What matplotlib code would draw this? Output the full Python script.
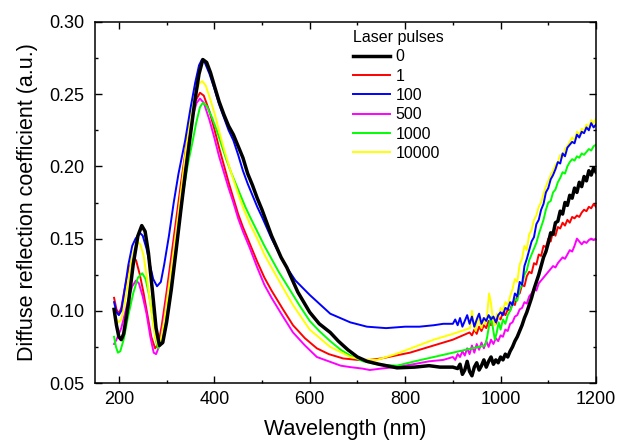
import matplotlib
matplotlib.use("Agg")
import matplotlib.pyplot as plt
from matplotlib.ticker import MultipleLocator, FormatStrFormatter

plt.rcParams['font.family'] = ['Liberation Sans', 'DejaVu Sans']

labels = ["0", "1", "100", "500", "1000", "10000"]
colors = ["black", "#ff0000", "#0000ff", "#ff00ff", "#00ff00", "#ffff00"]
widths = [2.5, 1.4, 1.4, 1.4, 1.4, 1.4]

# ---- series "0" ----
wl_0 = [190, 195, 200, 205, 210, 220, 230, 240, 248, 255, 262, 270, 278, 285, 292, 300, 310, 320, 330, 340,
        350, 360, 368, 376, 384, 392, 400, 410, 420, 430, 440, 450, 460, 470, 480, 490, 500, 520, 540, 552,
        575, 600, 620, 643, 660, 680, 700, 720, 745, 783, 820, 850, 873, 900,
        910, 915, 920, 925, 930, 935, 940, 945, 950, 955, 960, 965, 970, 975, 980, 985, 990, 995, 1000,
        1005, 1010, 1015, 1020, 1025, 1030, 1035, 1040, 1045, 1050, 1055, 1060, 1065, 1070, 1075, 1080,
        1085, 1090, 1095, 1100, 1105, 1110, 1115, 1120, 1125, 1130, 1135, 1140, 1145, 1150, 1155, 1160,
        1165, 1170, 1175, 1180, 1185, 1190, 1195, 1200]
v_0 = [0.101, 0.090, 0.082, 0.080, 0.084, 0.105, 0.132, 0.152, 0.159, 0.155, 0.140, 0.115, 0.088, 0.076, 0.078,
       0.092, 0.115, 0.142, 0.170, 0.197, 0.222, 0.247, 0.264, 0.274, 0.272, 0.265, 0.256, 0.245, 0.236, 0.228,
       0.222, 0.214, 0.206, 0.195, 0.187, 0.178, 0.170, 0.152, 0.137, 0.130, 0.113, 0.099, 0.091, 0.085, 0.079,
       0.073, 0.068, 0.065, 0.063, 0.0605, 0.061, 0.062, 0.061, 0.061,
       0.060, 0.063, 0.056, 0.059, 0.065, 0.058, 0.055, 0.061, 0.064, 0.059, 0.062, 0.066, 0.061, 0.065, 0.068,
       0.063, 0.066, 0.064, 0.068, 0.066, 0.070, 0.068, 0.072, 0.075, 0.079, 0.082, 0.086, 0.090, 0.095, 0.099,
       0.104, 0.109, 0.115, 0.120, 0.125, 0.131, 0.137, 0.141, 0.147, 0.154, 0.153, 0.161, 0.162, 0.169, 0.167,
       0.175, 0.173, 0.180, 0.178, 0.185, 0.182, 0.189, 0.186, 0.193, 0.190, 0.197, 0.194, 0.199, 0.196]

# ---- series "1" ----
wl_1 = [190, 195, 200, 205, 212, 220, 230, 236, 244, 252, 260, 268, 276, 283, 290, 300, 310, 320, 330, 343,
        350, 360, 370, 378, 390, 400, 410, 420, 430, 440, 450, 460, 475, 490, 505, 520, 544, 565, 590, 615,
        640, 670, 700, 726, 750, 780, 810, 840, 870, 900, 935,
        940, 945, 950, 955, 960, 965, 970, 975, 980, 985, 990, 995, 1000, 1005, 1010, 1015, 1020, 1025, 1030,
        1035, 1040, 1045, 1050, 1055, 1060, 1065, 1070, 1075, 1080, 1085, 1090, 1095, 1100, 1105, 1110, 1115,
        1120, 1125, 1130, 1135, 1140, 1145, 1150, 1155, 1160, 1165, 1170, 1175, 1180, 1185, 1190, 1195, 1200]
v_1 = [0.109, 0.101, 0.098, 0.102, 0.115, 0.128, 0.137, 0.135, 0.125, 0.112, 0.097, 0.082, 0.074, 0.077, 0.090,
       0.113, 0.138, 0.163, 0.188, 0.218, 0.230, 0.245, 0.251, 0.249, 0.238, 0.226, 0.213, 0.201, 0.189, 0.178,
       0.167, 0.158, 0.146, 0.134, 0.123, 0.114, 0.101, 0.090, 0.081, 0.074, 0.070, 0.067, 0.066, 0.066, 0.067,
       0.069, 0.071, 0.074, 0.077, 0.080, 0.085,
       0.083, 0.087, 0.084, 0.089, 0.086, 0.090, 0.088, 0.093, 0.090, 0.094, 0.091, 0.096, 0.094, 0.099, 0.097,
       0.101, 0.100, 0.106, 0.104, 0.111, 0.112, 0.118, 0.117, 0.124, 0.127, 0.126, 0.133, 0.132, 0.139, 0.138,
       0.145, 0.144, 0.150, 0.148, 0.155, 0.152, 0.158, 0.157, 0.161, 0.159, 0.163, 0.161, 0.165, 0.164, 0.166,
       0.165, 0.168, 0.170, 0.169, 0.172, 0.171, 0.174, 0.172]

# ---- series "100" ----
wl_100 = [190, 195, 200, 205, 210, 220, 228, 235, 244, 250, 258, 265, 272, 280, 288, 295, 305, 315, 325, 339,
          350, 360, 368, 374, 380, 390, 400, 410, 420, 430, 440, 450, 460, 470, 480, 490, 500, 520, 540, 552,
          570, 600, 643, 685, 720, 760, 800, 830, 860, 880, 900,
          905, 910, 915, 920, 925, 930, 935, 940, 945, 950, 955, 960, 965, 970, 975, 980, 985, 990, 995, 1000,
          1005, 1010, 1015, 1020, 1025, 1030, 1035, 1040, 1045, 1050, 1055, 1060, 1065, 1070, 1075, 1080, 1085,
          1090, 1095, 1100, 1105, 1110, 1115, 1120, 1125, 1130, 1135, 1140, 1145, 1150, 1155, 1160, 1165, 1170,
          1175, 1180, 1185, 1190, 1195, 1200]
v_100 = [0.106, 0.099, 0.097, 0.100, 0.110, 0.132, 0.145, 0.150, 0.154, 0.152, 0.143, 0.132, 0.122, 0.117, 0.120,
         0.132, 0.152, 0.175, 0.195, 0.218, 0.240, 0.258, 0.270, 0.274, 0.272, 0.264, 0.254, 0.243, 0.234, 0.225,
         0.218, 0.208, 0.197, 0.188, 0.180, 0.172, 0.165, 0.150, 0.137, 0.130, 0.121, 0.111, 0.098, 0.092, 0.089,
         0.088, 0.089, 0.089, 0.090, 0.091, 0.091,
         0.094, 0.090, 0.095, 0.089, 0.093, 0.097, 0.091, 0.096, 0.089, 0.094, 0.098, 0.091, 0.095, 0.093, 0.097,
         0.094, 0.096, 0.092, 0.097, 0.099, 0.097, 0.102, 0.101, 0.106, 0.104, 0.112, 0.110, 0.120, 0.118, 0.131,
         0.136, 0.142, 0.148, 0.151, 0.160, 0.163, 0.170, 0.174, 0.182, 0.185, 0.191, 0.194, 0.198, 0.203, 0.202,
         0.209, 0.207, 0.213, 0.215, 0.217, 0.216, 0.222, 0.220, 0.224, 0.223, 0.227, 0.225, 0.230, 0.227, 0.229]

# ---- series "500" ----
wl_500 = [190, 195, 200, 205, 212, 220, 228, 236, 242, 250, 258, 266, 273, 278, 285, 292, 300, 310, 320, 330,
          345, 355, 363, 370, 378, 390, 400, 410, 420, 430, 440, 450, 460, 475, 490, 505, 520, 544, 565, 590,
          615, 640, 665, 685, 710, 726, 750, 780, 817, 850, 880, 900,
          905, 910, 915, 920, 925, 930, 935, 940, 945, 950, 955, 960, 965, 970, 975, 980, 985, 990, 995, 1000,
          1005, 1010, 1015, 1020, 1025, 1030, 1035, 1040, 1045, 1050, 1055, 1060, 1065, 1070, 1075, 1080, 1085,
          1090, 1095, 1100, 1105, 1110, 1115, 1120, 1125, 1130, 1135, 1140, 1145, 1150, 1155, 1160, 1165, 1170,
          1175, 1180, 1185, 1190, 1195, 1200]
v_500 = [0.077, 0.080, 0.084, 0.088, 0.097, 0.108, 0.117, 0.121, 0.119, 0.110, 0.098, 0.082, 0.071, 0.070, 0.076,
         0.090, 0.108, 0.132, 0.157, 0.182, 0.218, 0.235, 0.244, 0.247, 0.244, 0.232, 0.220, 0.207, 0.196, 0.185,
         0.175, 0.164, 0.155, 0.143, 0.130, 0.118, 0.109, 0.096, 0.085, 0.076, 0.068, 0.065, 0.062, 0.061, 0.060,
         0.059, 0.060, 0.061, 0.063, 0.065, 0.066, 0.068,
         0.066, 0.070, 0.068, 0.072, 0.069, 0.074, 0.070, 0.076, 0.071, 0.077, 0.073, 0.078, 0.074, 0.079, 0.075,
         0.080, 0.077, 0.081, 0.079, 0.083, 0.082, 0.087, 0.086, 0.091, 0.092, 0.096, 0.097, 0.101, 0.102, 0.106,
         0.105, 0.110, 0.112, 0.115, 0.114, 0.119, 0.121, 0.123, 0.125, 0.127, 0.129, 0.131, 0.130, 0.133, 0.135,
         0.137, 0.136, 0.139, 0.142, 0.141, 0.145, 0.150, 0.148, 0.146, 0.148, 0.147, 0.149, 0.150, 0.149, 0.150]

# ---- series "1000" ----
wl_1000 = [190, 194, 198, 203, 210, 220, 230, 240, 249, 256, 264, 272, 278, 282, 288, 295, 305, 315, 325, 335,
           345, 355, 362, 370, 376, 384, 395, 405, 415, 425, 435, 445, 455, 465, 475, 490, 505, 520, 535, 550,
           565, 580, 600, 620, 643, 665, 690, 712, 740, 783, 820, 860, 900, 940, 968,
           972, 976, 980, 984, 988, 992, 996, 1000, 1005, 1010, 1015, 1020, 1025, 1030, 1035, 1040, 1045, 1050,
           1055, 1060, 1065, 1070, 1075, 1080, 1085, 1090, 1095, 1100, 1105, 1110, 1115, 1120, 1125, 1130, 1135,
           1140, 1145, 1150, 1155, 1160, 1165, 1170, 1175, 1180, 1185, 1190, 1195, 1200]
v_1000 = [0.082, 0.075, 0.071, 0.072, 0.080, 0.097, 0.112, 0.123, 0.126, 0.122, 0.110, 0.092, 0.079, 0.074, 0.077,
          0.088, 0.108, 0.132, 0.157, 0.182, 0.202, 0.218, 0.230, 0.241, 0.244, 0.242, 0.234, 0.225, 0.215, 0.205,
          0.196, 0.188, 0.180, 0.172, 0.165, 0.155, 0.145, 0.136, 0.127, 0.119, 0.111, 0.103, 0.093, 0.086, 0.079,
          0.073, 0.068, 0.065, 0.063, 0.062, 0.065, 0.068, 0.071, 0.074, 0.076,
          0.082, 0.090, 0.096, 0.088, 0.080, 0.085, 0.092, 0.087, 0.094, 0.091, 0.097, 0.100, 0.104, 0.108, 0.107,
          0.115, 0.118, 0.125, 0.128, 0.135, 0.139, 0.143, 0.147, 0.153, 0.158, 0.163, 0.170, 0.175, 0.176, 0.182,
          0.184, 0.189, 0.192, 0.196, 0.195, 0.200, 0.203, 0.205, 0.204, 0.207, 0.206, 0.209, 0.208, 0.210, 0.212,
          0.211, 0.214, 0.215]

# ---- series "10000" ----
wl_10000 = [190, 195, 200, 205, 212, 220, 228, 238, 245, 252, 260, 268, 276, 282, 288, 295, 305, 315, 325, 343,
            352, 362, 370, 375, 382, 392, 402, 412, 422, 432, 442, 452, 462, 475, 490, 505, 520, 544, 565, 600,
            643, 685, 715, 741, 780, 820, 860, 900, 936,
            940, 944, 948, 952, 956, 960, 964, 968, 972, 976, 980, 984, 988, 992, 996, 1000, 1005, 1010, 1015,
            1020, 1025, 1030, 1035, 1040, 1045, 1050, 1055, 1060, 1065, 1070, 1075, 1080, 1085, 1090, 1095, 1100,
            1105, 1110, 1115, 1120, 1125, 1130, 1135, 1140, 1145, 1150, 1155, 1160, 1165, 1170, 1175, 1180, 1185,
            1190, 1195, 1200]
v_10000 = [0.098, 0.094, 0.092, 0.094, 0.105, 0.122, 0.138, 0.148, 0.146, 0.138, 0.120, 0.100, 0.082, 0.076, 0.080,
           0.093, 0.117, 0.142, 0.168, 0.218, 0.237, 0.252, 0.258, 0.259, 0.256, 0.246, 0.235, 0.222, 0.210, 0.199,
           0.189, 0.179, 0.170, 0.160, 0.150, 0.139, 0.130, 0.116, 0.104, 0.087, 0.075, 0.068, 0.066, 0.066, 0.070,
           0.075, 0.080, 0.084, 0.088,
           0.100, 0.090, 0.086, 0.097, 0.092, 0.088, 0.095, 0.091, 0.098, 0.112, 0.105, 0.094, 0.090, 0.098, 0.095,
           0.102, 0.100, 0.106, 0.104, 0.110, 0.115, 0.122, 0.120, 0.132, 0.136, 0.145, 0.142, 0.153, 0.156, 0.163,
           0.166, 0.172, 0.175, 0.181, 0.186, 0.190, 0.194, 0.197, 0.201, 0.203, 0.208, 0.206, 0.212, 0.214, 0.217,
           0.220, 0.218, 0.224, 0.222, 0.226, 0.225, 0.229, 0.227, 0.232, 0.230, 0.233]

series_wl = [wl_0, wl_1, wl_100, wl_500, wl_1000, wl_10000]
series_v = [v_0, v_1, v_100, v_500, v_1000, v_10000]

fig = plt.figure(figsize=(6.19, 4.45), dpi=100)
ax = fig.add_axes([95 / 619, 1 - 383 / 445, (596 - 95) / 619, (383 - 22) / 445])

# draw so that black sits on top like the reference
order = [1, 3, 4, 5, 2, 0]
handles = {}
for i in order:
    ln, = ax.plot(series_wl[i], series_v[i], color=colors[i], lw=widths[i], label=labels[i],
                  solid_joinstyle='round')
    handles[i] = ln

ax.set_xlim(150, 1200)
ax.set_ylim(0.05, 0.30)
ax.xaxis.set_major_locator(MultipleLocator(200))
ax.xaxis.set_minor_locator(MultipleLocator(100))
ax.yaxis.set_major_locator(MultipleLocator(0.05))
ax.yaxis.set_minor_locator(MultipleLocator(0.025))
ax.yaxis.set_major_formatter(FormatStrFormatter('%.2f'))
ax.tick_params(which='both', direction='in', top=True, right=True, width=1.0, labelsize=13)
ax.tick_params(which='major', length=5)
ax.tick_params(which='minor', length=2.5)
ax.tick_params(axis='x', pad=6)
ax.tick_params(axis='y', pad=8)
for s in ax.spines.values():
    s.set_linewidth(1.1)

ax.set_xlabel("Wavelength (nm)", fontsize=15.5, labelpad=8)
ax.set_ylabel("Diffuse reflection coefficient (a.u.)", fontsize=15.5, labelpad=8)

leg = ax.legend([handles[i] for i in range(6)], labels, title="Laser pulses", loc='upper left',
                bbox_to_anchor=((353 - 95) / 501, 1.0 - 8 / 361), frameon=False, fontsize=11.5,
                title_fontsize=11.5, handlelength=2.3, handletextpad=0.35, labelspacing=0.27,
                borderpad=0.0, borderaxespad=0.0, alignment='left')

fig.savefig("out.png", dpi=100)
